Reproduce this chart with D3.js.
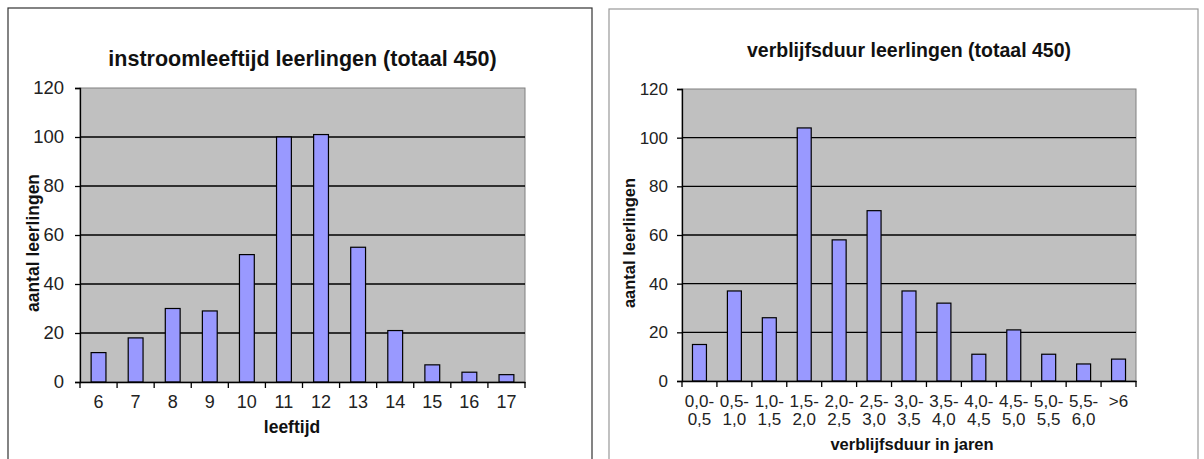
<!DOCTYPE html>
<html>
<head>
<meta charset="utf-8">
<script src="https://cdn.jsdelivr.net/npm/d3@7"></script>
<style>
  body { margin: 0; background: #fff; }
  svg { display: block; font-family: "Liberation Sans", Arial, sans-serif; }
</style>
</head>
<body>
<svg id="chart" width="1204" height="459"></svg>
<script>
// left chart: instroomleeftijd
const ageCategories = ["6", "7", "8", "9", "10", "11", "12", "13", "14", "15", "16", "17"];
const ageCounts = [12, 18, 30, 29, 52, 100, 101, 55, 21, 7, 4, 3];

// right chart: verblijfsduur
const stayCategories = ["0,0-|0,5", "0,5-|1,0", "1,0-|1,5", "1,5-|2,0", "2,0-|2,5", "2,5-|3,0",
  "3,0-|3,5", "3,5-|4,0", "4,0-|4,5", "4,5-|5,0", "5,0-|5,5", "5,5-|6,0", ">6"];
const stayCounts = [15, 37, 26, 104, 58, 70, 37, 32, 11, 21, 11, 7, 9];

const yTicks = [0, 20, 40, 60, 80, 100, 120];

const svg = d3.select("#chart");

function drawChart(opts) {
    const g = svg.append("g");

    // outer frame
    g.append("rect")
        .attr("x", opts.frame[0]).attr("y", opts.frame[1])
        .attr("width", opts.frame[2]).attr("height", opts.frame[3])
        .attr("fill", "#fff").attr("stroke", opts.frameColor).attr("stroke-width", 1.2);

    const p = opts.plot;
    const xb = d3.scaleBand().domain(opts.categories).range([p.left, p.right]);
    const y = d3.scaleLinear().domain([0, 120]).range([p.bottom, p.top]);

    // plot area
    g.append("rect")
        .attr("x", p.left).attr("y", p.top)
        .attr("width", p.right - p.left).attr("height", p.bottom - p.top)
        .attr("fill", "#c0c0c0").attr("stroke", "#808080").attr("stroke-width", 1);

    // gridlines
    g.selectAll(".grid").data(yTicks.filter(t => t > 0 && t < 120)).join("line")
        .attr("x1", p.left).attr("x2", p.right)
        .attr("y1", d => y(d)).attr("y2", d => y(d))
        .attr("stroke", "#000").attr("stroke-width", 1.3);

    // bars
    g.selectAll(".bar").data(opts.values).join("rect")
        .attr("x", (d, i) => xb(opts.categories[i]) + xb.bandwidth() * 0.3)
        .attr("y", d => y(d))
        .attr("width", xb.bandwidth() * 0.4)
        .attr("height", d => y(0) - y(d))
        .attr("fill", "#9999ff").attr("stroke", "#000").attr("stroke-width", 1.2);

    // y axis
    const yAxis = d3.axisLeft(y).tickValues(yTicks).tickSize(5).tickPadding(opts.yPad);
    const ya = g.append("g").attr("transform", `translate(${p.left},0)`).call(yAxis);
    ya.select(".domain").attr("stroke", "#000").attr("stroke-width", 1.3);
    ya.selectAll(".tick line").attr("stroke", "#000").attr("stroke-width", 1.3);
    ya.selectAll("text").attr("font-size", opts.tickSize).attr("fill", "#222");

    // x axis
    const xAxis = d3.axisBottom(xb).tickSize(0).tickFormat("");
    const xa = g.append("g").attr("transform", `translate(0,${p.bottom})`).call(xAxis);
    xa.select(".domain").attr("stroke", "#000").attr("stroke-width", 1.3);
    xa.selectAll(".xtick").data(d3.range(opts.categories.length + 1)).join("line")
        .attr("x1", i => p.left + i * xb.step()).attr("x2", i => p.left + i * xb.step())
        .attr("y1", 0).attr("y2", 6)
        .attr("stroke", "#000").attr("stroke-width", 1.3);

    const lbl = g.selectAll(".xl").data(opts.categories).join("text")
        .attr("x", d => xb(d) + xb.bandwidth() / 2)
        .attr("y", p.bottom + opts.xLabelOffset)
        .attr("text-anchor", "middle")
        .attr("font-size", opts.xTickSize).attr("fill", "#222");
    lbl.selectAll("tspan").data(d => d.split("|")).join("tspan")
        .attr("x", function() { return d3.select(this.parentNode).attr("x"); })
        .attr("dy", (d, i) => i === 0 ? 0 : opts.lineGap)
        .text(d => d);

    // title
    g.append("text")
        .attr("x", (p.left + p.right) / 2).attr("y", opts.titleY)
        .attr("text-anchor", "middle").attr("font-weight", "bold")
        .attr("font-size", opts.titleSize).attr("fill", "#111")
        .text(opts.title);

    // axis titles
    g.append("text")
        .attr("x", opts.xTitleX).attr("y", opts.xTitleY)
        .attr("text-anchor", "middle").attr("font-weight", "bold")
        .attr("font-size", opts.axisTitleSize).attr("fill", "#111")
        .text(opts.xTitle);

    g.append("text")
        .attr("transform", `translate(${opts.yTitleX},${(p.top + p.bottom) / 2 + 8}) rotate(-90)`)
        .attr("text-anchor", "middle").attr("font-weight", "bold")
        .attr("font-size", opts.axisTitleSize).attr("fill", "#111")
        .text("aantal leerlingen");
}

drawChart({
    categories: ageCategories, values: ageCounts,
    frame: [8, 8, 584, 460], frameColor: "#333",
    plot: { left: 80, right: 525, top: 88, bottom: 382 },
    title: "instroomleeftijd leerlingen (totaal 450)", titleY: 66, titleSize: 21.5,
    xTitle: "leeftijd", xTitleX: 292, xTitleY: 433, yTitleX: 39,
    tickSize: 18.5, xTickSize: 18, yPad: 11, axisTitleSize: 17.5, xLabelOffset: 26, lineGap: 18
});

drawChart({
    categories: stayCategories, values: stayCounts,
    frame: [609, 9, 589, 460], frameColor: "#999",
    plot: { left: 682, right: 1136, top: 89, bottom: 381 },
    title: "verblijfsduur leerlingen (totaal 450)", titleY: 57, titleSize: 19.5,
    xTitle: "verblijfsduur in jaren", xTitleX: 912, xTitleY: 450, yTitleX: 635,
    tickSize: 17, xTickSize: 17, yPad: 9, axisTitleSize: 16.5, xLabelOffset: 26, lineGap: 18.3
});
</script>
</body>
</html>
